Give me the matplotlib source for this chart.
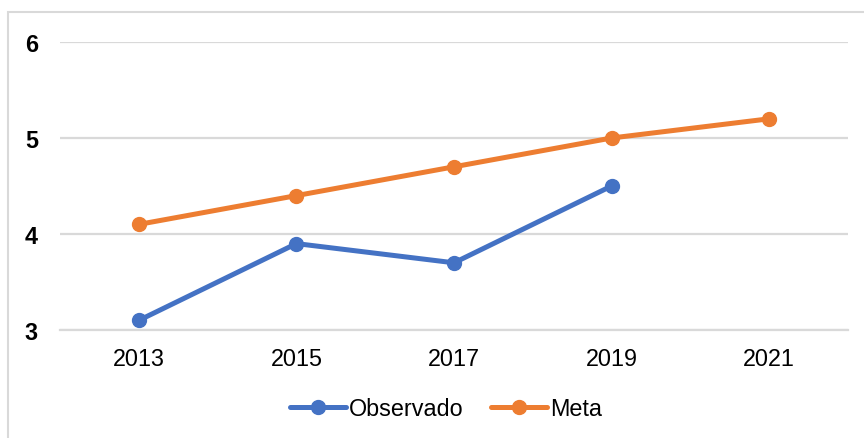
import matplotlib.pyplot as plt
from matplotlib.patches import Rectangle

# data
years = [2013, 2015, 2017, 2019, 2021]
observado = [3.1, 3.9, 3.7, 4.5]
meta = [4.1, 4.4, 4.7, 5.0, 5.2]

BLUE = "#4472C4"
ORANGE = "#ED7D31"
GRID = "#D9D9D9"

plt.rcParams['font.family'] = ['Liberation Sans', 'DejaVu Sans']

fig = plt.figure(figsize=(8.64, 4.39), dpi=100)
ax = fig.add_axes([60/864, 1-331/439, (848-60)/864, (331-43)/439])

ax.plot(years[:len(observado)], observado, color=BLUE, lw=3.6, marker="o", ms=10,
        solid_capstyle="round", label="Observado")
ax.plot(years, meta, color=ORANGE, lw=3.6, marker="o", ms=10,
        solid_capstyle="round", label="Meta")

ax.set_xlim(2012, 2022)
ax.set_ylim(3, 6)
ax.set_xticks(years)
ax.set_xticklabels([str(y) for y in years], fontsize=16.8)
ax.set_yticks([3, 4, 5, 6])
ax.set_yticklabels(["3", "4", "5", "6"], fontsize=16.8, fontweight="bold")
ax.tick_params(length=0)
ax.tick_params(axis="x", pad=12)
ax.tick_params(axis="y", pad=16)
ax.grid(axis="y", color=GRID, lw=1.6)
ax.set_axisbelow(True)
for s in ["top", "right", "left"]:
    ax.spines[s].set_visible(False)
ax.spines["bottom"].set_color(GRID)
ax.spines["bottom"].set_linewidth(1.6)

leg = fig.legend(loc="center", bbox_to_anchor=(446/864, 1-410/439), ncol=2,
                 frameon=False, fontsize=16.8, handlelength=2.4,
                 handletextpad=0.1, columnspacing=1.2)

# chart border
fig.patches.append(Rectangle((8/864, -0.05), 1.1, 1-13/439+0.05,
                             transform=fig.transFigure, fill=False,
                             edgecolor=GRID, lw=1.5))

fig.savefig("out.png", dpi=100)
